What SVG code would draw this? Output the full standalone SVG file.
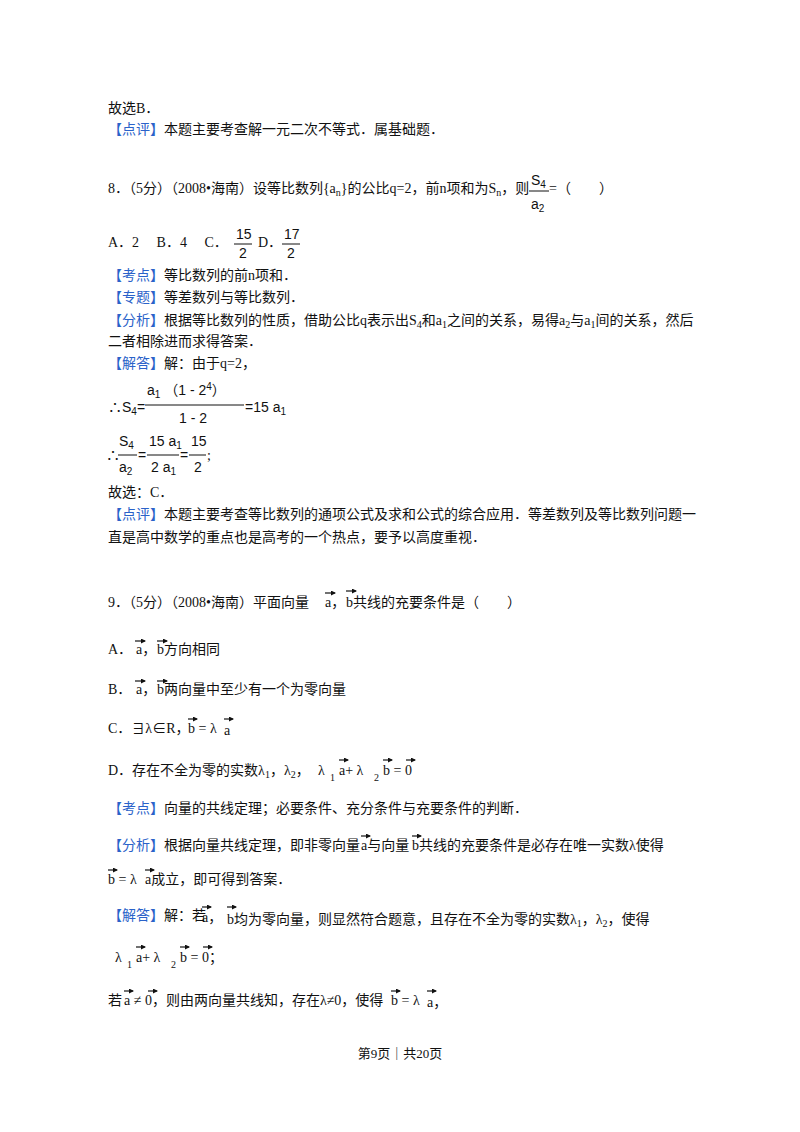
<svg xmlns="http://www.w3.org/2000/svg" width="800" height="1132" viewBox="0 0 800 1132">
<style>
text{font-family:"Liberation Serif","Noto Sans CJK SC",serif;font-size:14px;fill:#111}
.b{fill:#2a62c9}
.m{font-family:"Liberation Sans","Noto Sans CJK SC",sans-serif;font-size:14px}
.s{font-size:10px}
.v{stroke:#111;stroke-width:1.2;fill:none;marker-end:url(#ah)}
.f{stroke:#111;stroke-width:1}
</style>
<defs><marker id="ah" markerWidth="5" markerHeight="5" refX="4" refY="2.5" orient="auto" markerUnits="userSpaceOnUse"><path d="M0,0 L5,2.5 L0,5 z" fill="#111"/></marker></defs>
<rect width="800" height="1132" fill="#fff"/>
<text x="108" y="113">故选B．</text>
<text x="108" y="134"><tspan class="b">【点评】</tspan>本题主要考查解一元二次不等式．属基础题．</text>

<text x="108" y="193">8．（5分）（2008•海南）设等比数列{a<tspan class="s" dy="3">n</tspan><tspan dy="-3">}的公比q=2，前n项和为S</tspan><tspan class="s" dy="3">n</tspan><tspan dy="-3">，则</tspan></text>
<text x="531" y="185" class="m">S<tspan class="s" dy="3">4</tspan></text>
<line class="f" x1="529" y1="191" x2="549" y2="191"/>
<text x="531" y="209" class="m">a<tspan class="s" dy="3">2</tspan></text>
<text x="549" y="193">=（　　）</text>

<text x="108" y="247">A．2　 B．4　 C．</text>
<text x="236" y="239" class="m">15</text><line class="f" x1="234" y1="244" x2="252" y2="244"/><text x="239" y="258" class="m">2</text>
<text x="258" y="247">D．</text>
<text x="284" y="239" class="m">17</text><line class="f" x1="282" y1="244" x2="300" y2="244"/><text x="287" y="258" class="m">2</text>

<text x="108" y="280"><tspan class="b">【考点】</tspan>等比数列的前n项和．</text>
<text x="108" y="302"><tspan class="b">【专题】</tspan>等差数列与等比数列．</text>
<text x="108" y="325"><tspan class="b">【分析】</tspan>根据等比数列的性质，借助公比q表示出S<tspan class="s" dy="3">4</tspan><tspan dy="-3">和a</tspan><tspan class="s" dy="3">1</tspan><tspan dy="-3">之间的关系，易得a</tspan><tspan class="s" dy="3">2</tspan><tspan dy="-3">与a</tspan><tspan class="s" dy="3">1</tspan><tspan dy="-3">间的关系，然后</tspan></text>
<text x="108" y="346">二者相除进而求得答案．</text>
<text x="108" y="368"><tspan class="b">【解答】</tspan>解：由于q=2，</text>

<text x="108" y="412" class="m">∴S<tspan class="s" dy="3">4</tspan><tspan dy="-3">=</tspan></text>
<text x="147" y="395" class="m">a<tspan class="s" dy="3">1</tspan><tspan dy="-3"> （1 - 2</tspan><tspan class="s" dy="-5">4</tspan><tspan dy="5">）</tspan></text>
<line class="f" x1="145" y1="405" x2="244" y2="405"/>
<text x="179" y="423" class="m">1 - 2</text>
<text x="245" y="412" class="m">=15 a<tspan class="s" dy="3">1</tspan></text>

<text x="106" y="460" class="m">∴</text>
<text x="119" y="446" class="m">S<tspan class="s" dy="3">4</tspan></text><line class="f" x1="118" y1="455" x2="137" y2="455"/><text x="119" y="472" class="m">a<tspan class="s" dy="3">2</tspan></text>
<text x="138" y="460" class="m">=</text>
<text x="149" y="446" class="m">15 a<tspan class="s" dy="3">1</tspan></text><line class="f" x1="147" y1="455" x2="179" y2="455"/><text x="151" y="472" class="m">2 a<tspan class="s" dy="3">1</tspan></text>
<text x="180" y="460" class="m">=</text>
<text x="191" y="446" class="m">15</text><line class="f" x1="189" y1="455" x2="206" y2="455"/><text x="194" y="472" class="m">2</text>
<text x="207" y="460">;</text>

<text x="108" y="497">故选：C．</text>
<text x="108" y="519"><tspan class="b">【点评】</tspan>本题主要考查等比数列的通项公式及求和公式的综合应用．等差数列及等比数列问题一</text>
<text x="108" y="542">直是高中数学的重点也是高考的一个热点，要予以高度重视．</text>

<g id="q9">
<text x="108" y="607">9．（5分）（2008•海南）平面向量</text>
<text x="325" y="607">a，</text><text x="346" y="607">b共线的充要条件是（　　）</text>
<path class="v" d="M325,593 h10"/><path class="v" d="M346,591 h10"/>

<text x="108" y="654">A．</text><text x="136" y="654">a，</text><text x="157" y="654">b方向相同</text>
<path class="v" d="M135,641 h10"/><path class="v" d="M157,641 h10"/>
<text x="108" y="694">B．</text><text x="136" y="694">a，</text><text x="157" y="694">b两向量中至少有一个为零向量</text>
<path class="v" d="M135,681 h10"/><path class="v" d="M157,681 h10"/>
<text x="108" y="733">C．∃λ∈R，</text><text x="188" y="733">b = λ</text><text x="224" y="735">a</text>
<path class="v" d="M188,719 h9"/><path class="v" d="M224,719 h9"/>

<text x="108" y="775">D．存在不全为零的实数λ<tspan class="s" dy="3">1</tspan><tspan dy="-3">，λ</tspan><tspan class="s" dy="3">2</tspan><tspan dy="-3">，</tspan></text>
<text x="318" y="775">λ</text><text x="330" y="781" class="s">1</text><text x="339" y="775">a+ λ</text><text x="374" y="781" class="s">2</text><text x="383" y="775">b = 0</text>
<path class="v" d="M339,760 h9"/><path class="v" d="M383,760 h9"/><path class="v" d="M406,760 h9"/>

<text x="108" y="813"><tspan class="b">【考点】</tspan>向量的共线定理；必要条件、充分条件与充要条件的判断．</text>
<text x="108" y="850"><tspan class="b">【分析】</tspan>根据向量共线定理，即非零向量</text>
<text x="361" y="850">a与向量</text><text x="412" y="850">b共线的充要条件是必存在唯一实数λ使得</text>
<path class="v" d="M361,836 h9"/><path class="v" d="M412,836 h9"/>
<text x="108" y="884">b = λ</text><text x="145" y="884">a成立，即可得到答案．</text>
<path class="v" d="M108,870 h9"/><path class="v" d="M145,870 h9"/>

<text x="108" y="920"><tspan class="b">【解答】</tspan>解：若</text>
<text x="202" y="922">a，</text><text x="227" y="924">b均为零向量，则显然符合题意，且存在不全为零的实数λ<tspan class="s" dy="3">1</tspan><tspan dy="-3">，λ</tspan><tspan class="s" dy="3">2</tspan><tspan dy="-3">，使得</tspan></text>
<path class="v" d="M202,907 h9"/><path class="v" d="M227,907 h9"/>

<text x="115" y="962">λ</text><text x="127" y="968" class="s">1</text><text x="136" y="962">a+ λ</text><text x="171" y="968" class="s">2</text><text x="180" y="962">b = 0；</text>
<path class="v" d="M136,947 h9"/><path class="v" d="M180,947 h9"/><path class="v" d="M203,947 h9"/>

<text x="108" y="1005">若</text><text x="124" y="1005">a ≠ 0，则由两向量共线知，存在λ≠0，使得</text>
<text x="391" y="1005">b = λ</text><text x="427" y="1007">a，</text>
<path class="v" d="M124,991 h9"/><path class="v" d="M148,991 h9"/><path class="v" d="M391,991 h9"/><path class="v" d="M427,991 h9"/>
</g>
<text x="400" y="1058" text-anchor="middle" style="font-size:13px">第9页｜共20页</text>
</svg>
